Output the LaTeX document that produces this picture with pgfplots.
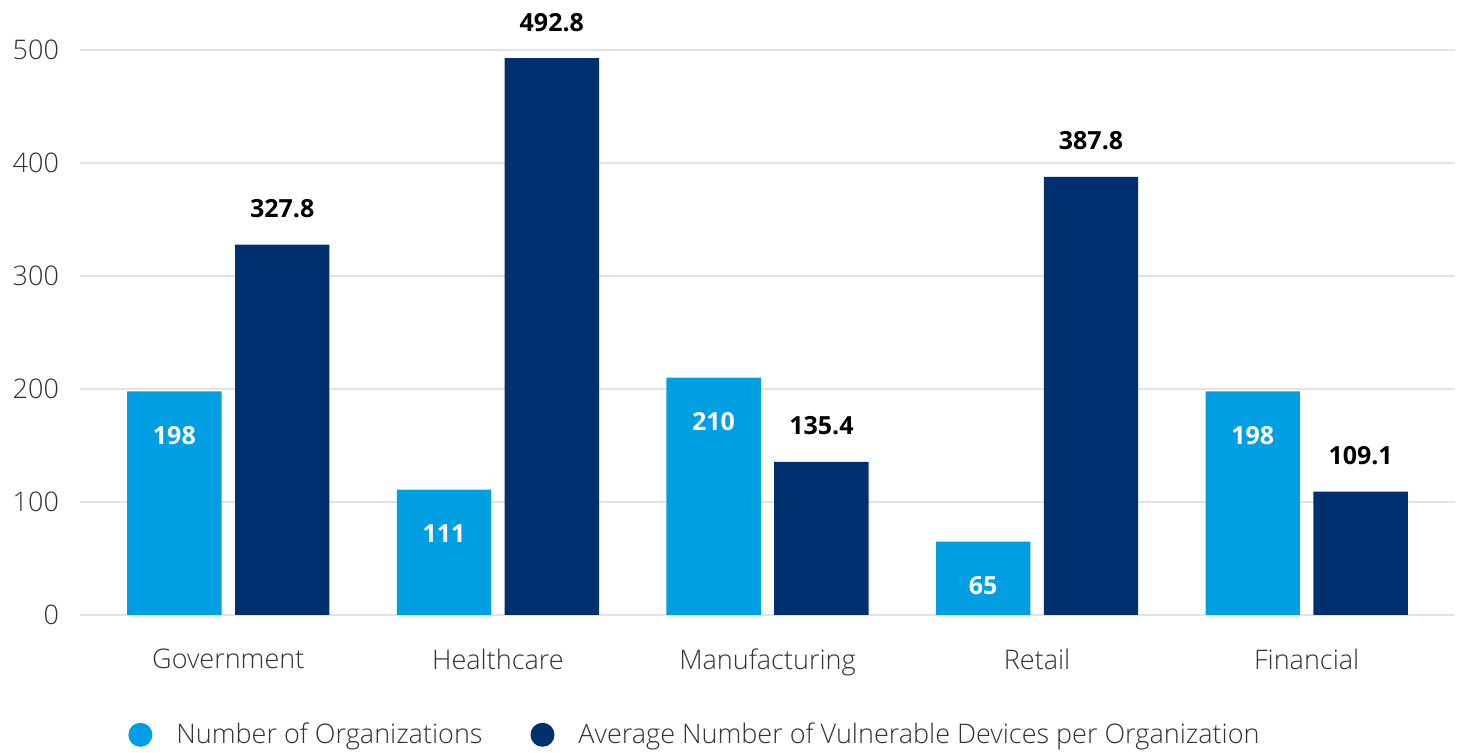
\documentclass[border=0pt]{standalone}
\usepackage{pgfplots}
\pgfplotsset{compat=1.18}
\usepackage{fontspec}
\setmainfont{Open Sans}
\newfontfamily\lightfont{Open Sans Light}
\definecolor{lightblue}{HTML}{009FE3}
\definecolor{navy}{HTML}{003070}
\definecolor{ticktext}{HTML}{333333}
\definecolor{gridgray}{HTML}{E3E3E3}
\begin{document}
\begin{tikzpicture}
\useasboundingbox (-40pt,-69pt) rectangle (690.5pt,307.5pt);
\begin{axis}[
 at={(0pt,0pt)}, anchor=south west,
 scale only axis, width=687.5pt, height=282.5pt,
 xmin=-0.55, xmax=4.55, ymin=0, ymax=500,
 xtick={0,...,4}, xticklabels={Government,Healthcare,Manufacturing,Retail,Financial},
 ytick={0,100,...,500},
 axis line style={draw=none}, major tick length=0pt,
 ymajorgrids, grid style={gridgray, line width=0.75pt},
 ticklabel style={font=\lightfont\fontsize{13.5}{16}\selectfont, text=ticktext},
 xticklabel style={yshift=-13.5pt},
 yticklabel style={xshift=-7pt},
 /pgf/number format/assume math mode=true,
 ybar, bar width=0.35,
 clip=false,
 legend columns=2,
 legend style={at={(axis description cs:0.0349,-0.212)}, anchor=west, draw=none, inner sep=0pt,
   font=\lightfont\fontsize{13.5}{16}\selectfont, text=ticktext,
   /tikz/every odd column/.append style={column sep=10pt},
   /tikz/every even column/.append style={column sep=22pt}},
]
\addplot[fill=lightblue, draw=none, bar shift=-0.2,
  nodes near coords,
  every node near coord/.append style={anchor=center, yshift=-22pt, text=white, font=\bfseries\fontsize{12.5}{15}\selectfont},
  legend image code/.code={\fill[lightblue] (6pt,0pt) circle (6pt);}]
  coordinates {(0,198) (1,111) (2,210) (3,65) (4,198)};
\addlegendentry{Number of Organizations}
\addplot[fill=navy, draw=none, bar shift=0.2,
  nodes near coords,
  every node near coord/.append style={anchor=center, yshift=18pt, text=black, font=\bfseries\fontsize{12.5}{15}\selectfont},
  legend image code/.code={\fill[navy] (6pt,0pt) circle (6pt);}]
  coordinates {(0,327.8) (1,492.8) (2,135.4) (3,387.8) (4,109.1)};
\addlegendentry{Average Number of Vulnerable Devices per Organization}
\end{axis}
\end{tikzpicture}
\end{document}
